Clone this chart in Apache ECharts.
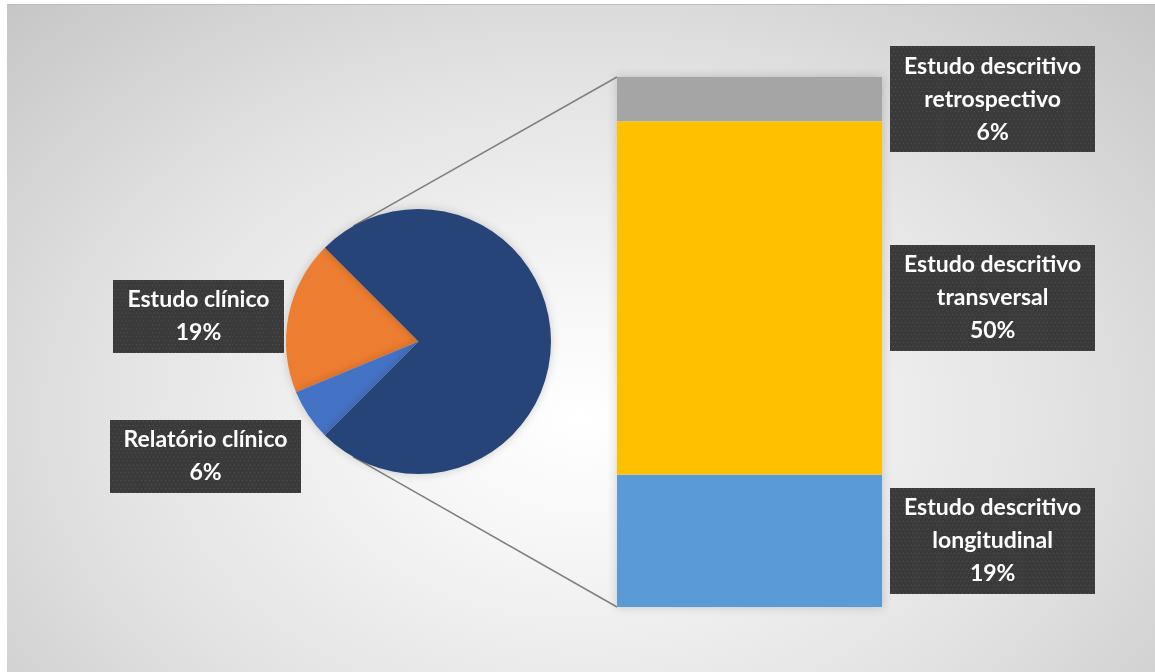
<!DOCTYPE html>
<html><head><meta charset="utf-8">
<script src="https://cdn.jsdelivr.net/npm/echarts@6/dist/echarts.min.js"></script>
<style>
html,body{margin:0;padding:0;background:#fff;overflow:hidden;}
#bg{position:absolute;left:7px;top:4px;width:1148px;height:668px;
 background:radial-gradient(ellipse farthest-corner at 50% 62%, #ffffff 0%, #f6f6f6 22%, #e2e2e2 60%, #c6c6c6 100%);
 border-top:1px solid #bcbcbc;box-sizing:border-box;}
#chart{position:absolute;left:0;top:0;width:1155px;height:672px;}
</style></head>
<body>
<div id="bg"></div>
<div id="chart"></div>
<script>
// Pie (main) categories and values (percent of all studies)
const pieNames = ['Estudo clínico', 'Relatório clínico'];
const pieValues = [18.75, 6.25];
const pieColors = ['#ED7D31', '#4472C4'];
const otherName = 'Estudo descritivo';
const otherColor = '#264478';

// Bar (breakdown of "Estudo descritivo"), bottom to top
const barNames = ['Estudo descritivo longitudinal', 'Estudo descritivo transversal', 'Estudo descritivo retrospectivo'];
const barValues = [18.75, 50, 6.25];
const barColors = ['#5B9BD5', '#FFC000', '#A5A5A5'];

const otherTotal = barValues.reduce((a, b) => a + b, 0);

// layout
const CX = 418.5, CY = 341.5, R = 132.5;
const GL = 617, GT = 77, GW = 265, GH = 530;

function dotted(w, h) {
  const c = document.createElement('canvas');
  c.width = w; c.height = h;
  const g = c.getContext('2d');
  g.fillStyle = '#3a3a3a';
  g.fillRect(0, 0, w, h);
  g.fillStyle = '#545454';
  for (let y = 1, r = 0; y < h; y += 4, r++) {
    for (let x = (r % 2) * 2 + 1; x < w; x += 4) g.fillRect(x, y, 1, 1);
  }
  return c;
}

function labelBox(img) {
  return {
    color: '#ffffff', fontWeight: 'bold', fontSize: 23, lineHeight: 33,
    fontFamily: 'Lato, "Liberation Sans", sans-serif',
    backgroundColor: { image: img }, padding: [4, 14, 3, 14],
    shadowBlur: 6, shadowColor: 'rgba(0,0,0,0.45)', shadowOffsetX: 3, shadowOffsetY: 3
  };
}
const barImg = dotted(208, 106);
const pieImg = dotted(190, 74);

const pieData = pieNames.map((n, i) => ({
  name: n, value: pieValues[i], itemStyle: { color: pieColors[i] }
}));
pieData.push({ name: otherName, value: otherTotal, itemStyle: { color: otherColor }, label: { show: false } });

const pieLabelPos = [[-220, -25], [-213, 115]];

const barSeries = barNames.map((n, i) => ({
  type: 'bar', name: n, stack: 'desc', data: [barValues[i]],
  barWidth: '100%', itemStyle: { color: barColors[i] },
  label: Object.assign({
    show: true, position: 'right',
    formatter: p => p.seriesName.replace('descritivo ', 'descritivo\n') + '\n' + Math.round(p.value) + '%'
  }, labelBox(barImg)),
  labelLayout: p => ({
    x: p.rect.x + p.rect.width + 8 + p.labelRect.width / 2,
    y: p.rect.y + p.rect.height / 2,
    align: 'center', verticalAlign: 'middle'
  }),
  z: 3
}));

function tangent(px, py, sign) {
  const dx = px - CX, dy = py - CY;
  const d = Math.sqrt(dx * dx + dy * dy);
  const base = Math.atan2(dy, dx);
  const a = base + sign * Math.acos(R / d);
  return [CX + R * Math.cos(a), CY + R * Math.sin(a)];
}

const chart = echarts.init(document.getElementById('chart'));
const option = {
  backgroundColor: 'transparent',
  animation: false,
  grid: { left: GL, top: GT, width: GW, height: GH },
  xAxis: { type: 'category', data: [''], show: false },
  yAxis: { type: 'value', min: 0, max: otherTotal, show: false },
  series: [
    {
      type: 'pie', center: [CX, CY], radius: R,
      startAngle: 135, clockwise: false,
      data: pieData,
      itemStyle: { shadowBlur: 10, shadowColor: 'rgba(0,0,0,0.18)' },
      label: Object.assign({ show: true, formatter: p => p.name + '\n' + Math.round(p.value) + '%' }, labelBox(pieImg)),
      labelLine: { show: false },
      labelLayout: p => {
        const o = pieLabelPos[p.dataIndex] || [0, 0];
        return { x: CX + o[0], y: CY + o[1], align: 'center', verticalAlign: 'middle' };
      },
      emphasis: { disabled: true }, z: 3
    }
  ].concat(barSeries)
};
chart.setOption(option);

const topY = chart.convertToPixel({ gridIndex: 0 }, [0, otherTotal])[1];
const botY = chart.convertToPixel({ gridIndex: 0 }, [0, 0])[1];
const t1 = tangent(GL, topY, -1);
const t2 = tangent(GL, botY, 1);
chart.setOption({
  graphic: [
    { type: 'line', z: 1, shape: { x1: t1[0], y1: t1[1], x2: GL, y2: topY }, style: { stroke: '#7f7f7f', lineWidth: 1.5 } },
    { type: 'line', z: 1, shape: { x1: t2[0], y1: t2[1], x2: GL, y2: botY }, style: { stroke: '#7f7f7f', lineWidth: 1.5 } },
    { type: 'rect', z: 0, shape: { x: GL, y: topY, width: GW, height: botY - topY }, style: { fill: '#fff', shadowBlur: 10, shadowColor: 'rgba(0,0,0,0.18)' } }
  ]
});
</script>
</body></html>
